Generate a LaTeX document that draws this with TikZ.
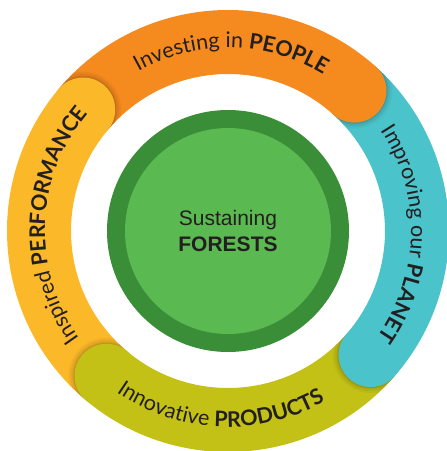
\documentclass[tikz,border=0pt]{standalone}
\usepackage{fontspec}
\setmainfont{Liberation Sans}
\newfontfamily\ringfont{Lato}
\usetikzlibrary{decorations.text}
\definecolor{cOrange}{HTML}{F58A1F}
\definecolor{cTeal}{HTML}{4BC3CB}
\definecolor{cOlive}{HTML}{C3C116}
\definecolor{cYellow}{HTML}{FBB829}
\definecolor{cDark}{HTML}{3B8E38}
\definecolor{cLight}{HTML}{5AB950}
\definecolor{cText}{HTML}{231F20}
\newcommand\ringseg[3]{\fill[#3] (#1:221pt) arc[start angle=#1,end angle=#2,radius=221pt] -- (#2:157pt) arc[start angle=#2,end angle=#1,radius=157pt] -- cycle;}
% rounded end of a segment, laid over the next segment (clockwise)
\newcommand\ringcap[2]{%
  \begin{scope}
  \clip (0,0) -- (#1:300pt) arc[start angle=#1, end angle=#1-60, radius=300pt] -- cycle;
  \fill[black,opacity=0.04] (#1:189pt) circle[radius=38pt];
  \fill[black,opacity=0.05] (#1:189pt) circle[radius=36pt];
  \fill[black,opacity=0.06] (#1:189pt) circle[radius=34pt];
  \fill[black,opacity=0.07] (#1:189pt) circle[radius=33pt];
  \end{scope}
  \begin{scope}
  \clip (0,0) -- (#1+2:300pt) arc[start angle=#1+2, end angle=#1-60, radius=300pt] -- cycle;
  \fill[#2] (#1:189pt) circle[radius=32pt];
  \end{scope}}
\newcommand\rf{\ringfont\fontsize{21.5}{25}\selectfont\color{cText}}
\begin{document}
\begin{tikzpicture}[x=1pt,y=1pt]
\useasboundingbox (-228,-220) rectangle (219,231);
% ring segments
\ringseg{48}{140}{cOrange}
\ringseg{-41}{48}{cTeal}
\ringseg{230}{319}{cOlive}
\ringseg{140}{230}{cYellow}
% rounded overlapping ends
\begin{scope}[even odd rule]
\clip (0,0) circle[radius=221pt] (0,0) circle[radius=157pt];
\ringcap{48}{cOrange}
\ringcap{-41}{cTeal}
\ringcap{230}{cOlive}
\ringcap{140}{cYellow}
\end{scope}
% centre
\fill[cDark] (0,0) circle[radius=121pt];
\fill[cLight] (0,0) circle[radius=103pt];
\node[align=center, text=cText, font=\fontsize{21}{26}\selectfont] (centre) at (0,0) {Sustaining\\\textbf{FORESTS}};
% ring texts
\path[decorate, decoration={text along path, text align=center,
  text={|\rf|Investing in |\rf\bfseries|PEOPLE}}]
  (149:183pt) arc[start angle=149, end angle=29, radius=183pt];
\path[decorate, decoration={text along path, text align=center,
  text={|\rf|Improving our |\rf\bfseries|PLANET}}]
  (59:183pt) arc[start angle=59, end angle=-61, radius=183pt];
\path[decorate, decoration={text along path, text align=center,
  text={|\rf|Innovative |\rf\bfseries|PRODUCTS}}]
  (207.5:196pt) arc[start angle=207.5, end angle=327.5, radius=196pt];
\path[decorate, decoration={text along path, text align=center,
  text={|\rf|Inspired |\rf\bfseries|PERFORMANCE}}]
  (238:183pt) arc[start angle=238, end angle=118, radius=183pt];
\end{tikzpicture}
\end{document}
